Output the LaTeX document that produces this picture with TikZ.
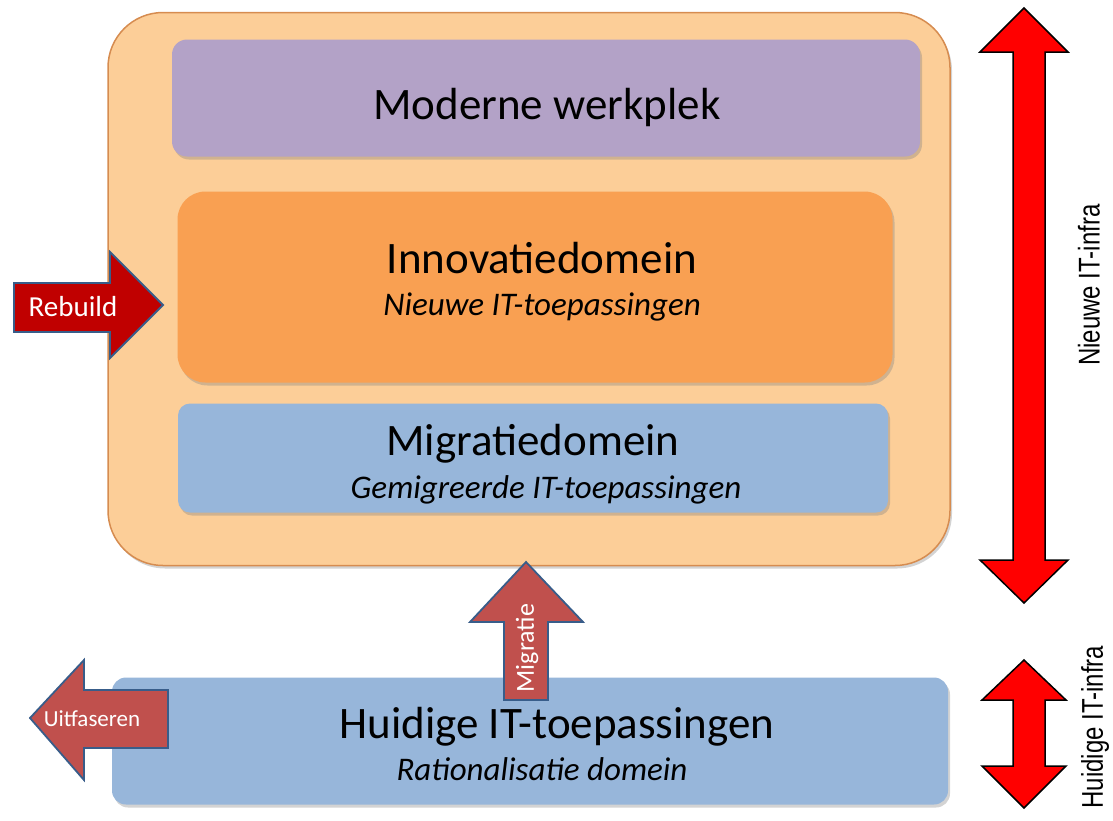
\documentclass[tikz,border=0pt]{standalone}
\usepackage{fontspec}
\setmainfont{Carlito}
\newfontfamily\narrowfont[FakeStretch=0.8]{Liberation Sans}
\usetikzlibrary{shadows}
\definecolor{outerfill}{RGB}{252,206,152}
\definecolor{outerline}{RGB}{214,140,80}
\definecolor{purplefill}{RGB}{179,162,199}
\definecolor{orangefill}{RGB}{249,160,82}
\definecolor{bluefill}{RGB}{151,182,218}
\definecolor{darkred}{RGB}{192,0,0}
\definecolor{brickred}{RGB}{192,80,77}
\definecolor{arrowline}{RGB}{56,93,138}
\tikzset{layer/.style={rounded corners=#1, inner sep=0pt,
    drop shadow={opacity=0.35, shadow xshift=2pt, shadow yshift=-3pt}}}
\tikzset{title/.style={font=\fontsize{45}{54}\selectfont, inner sep=0pt, anchor=base}}
\tikzset{subtitle/.style={font=\fontsize{33}{40}\selectfont\itshape, inner sep=0pt, anchor=base}}
\tikzset{flow/.style={draw=arrowline, line width=1.8pt, line join=miter}}
\tikzset{infra/.style={draw=black, line width=1.5pt, fill=red, line join=miter}}
\tikzset{lbl/.style={text=white, inner sep=0pt}}
\tikzset{side/.style={rotate=90, inner sep=0pt, font=\narrowfont\fontsize{30}{36}\selectfont}}
\begin{document}
\begin{tikzpicture}[x=1pt, y=-1pt]
\useasboundingbox (0,0) rectangle (1113,820);

% nieuwe omgeving
\node[layer=55, draw=outerline, line width=1.5pt, fill=outerfill,
  minimum width=842, minimum height=553] (omgeving) at (529,289) {};

\node[layer=15, fill=purplefill, minimum width=748, minimum height=117]
  (werkplek) at (546,98) {};
\node[title] (werkplektitel) at (547,119) {Moderne werkplek};

\node[layer=28, fill=orangefill, minimum width=715, minimum height=191]
  (innovatie) at (535,287) {};
\node[title] (innovatietitel) at (542,273) {Innovatiedomein};
\node[subtitle] (innovatiesub) at (542,315) {Nieuwe IT-toepassingen};

\node[layer=12, fill=bluefill, minimum width=710, minimum height=109]
  (migratie) at (533,458) {};
\node[title] (migratietitel) at (533,455) {Migratiedomein};
\node[subtitle] (migratiesub) at (546,498) {Gemigreerde IT-toepassingen};

% huidige omgeving
\node[layer=14, fill=bluefill, minimum width=836, minimum height=127]
  (huidig) at (530,741) {};
\node[title] (huidigtitel) at (557,738) {Huidige IT-toepassingen};
\node[subtitle] (huidigsub) at (542,780) {Rationalisatie domein};

% rebuild
\draw[flow, fill=darkred] (14,283) -- (110,283) -- (110,252) -- (163,305)
  -- (110,358) -- (110,332) -- (14,332) -- cycle;
\node[lbl, font=\fontsize{29}{34}\selectfont] (rebuild) at (73,307) {Rebuild};

% migratie
\draw[flow, fill=brickred] (526,562) -- (583,622) -- (548,622) -- (548,700)
  -- (504,700) -- (504,622) -- (470,622) -- cycle;
\node[lbl, rotate=90, font=\fontsize{26}{30}\selectfont] (migr) at (527,648) {Migratie};

% uitfaseren
\draw[flow, fill=brickred] (30,718) -- (84,660) -- (84,690) -- (168,690)
  -- (168,748) -- (84,748) -- (84,780) -- cycle;
\node[lbl, font=\fontsize{23}{28}\selectfont] (uitfasering) at (92,719) {Uitfaseren};

% infra pijlen
\draw[infra] (1024,8) -- (1068,52) -- (1045,52) -- (1045,560) -- (1068,560)
  -- (1024,603) -- (980,560) -- (1013,560) -- (1013,52) -- (980,52) -- cycle;
\draw[infra] (1024,660) -- (1066,700) -- (1045,700) -- (1045,766) -- (1066,766)
  -- (1024,808) -- (982,766) -- (1013,766) -- (1013,700) -- (982,700) -- cycle;
\node[side] (nieuweinfra) at (1089,285) {Nieuwe IT-infra};
\node[side] (huidigeinfra) at (1095,727) {Huidige IT-infra};
\end{tikzpicture}
\end{document}
